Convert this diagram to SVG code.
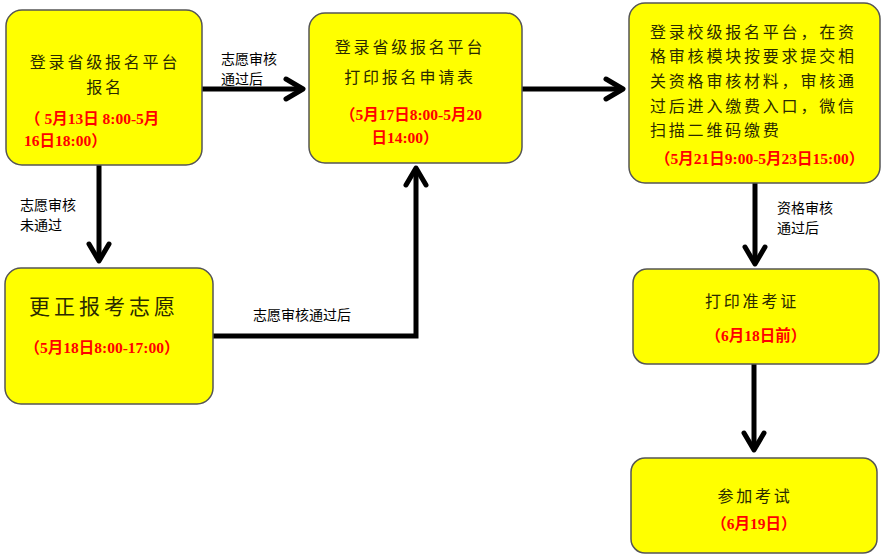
<svg xmlns="http://www.w3.org/2000/svg" width="881" height="558" viewBox="0 0 881 558">
<defs>
<style>
.box{fill:#FFFF00;stroke:#555555;stroke-width:1.5}
.t{font-family:"Noto Sans CJK SC",sans-serif;font-size:16px;fill:#2a2a00;letter-spacing:2.8px}
.big{font-size:21px;letter-spacing:4px}
.r{font-family:"Liberation Serif","Noto Sans CJK SC",serif;font-size:15.5px;font-weight:bold;fill:#FF0000}
.lbl{font-family:"Noto Sans CJK SC",sans-serif;font-size:14px;fill:#000}
.c{fill:none;stroke:#000;stroke-width:5}
</style>
<marker id="ah" markerUnits="userSpaceOnUse" markerWidth="40" markerHeight="40" refX="0" refY="0" orient="auto" viewBox="-25 -20 40 40" overflow="visible">
<path d="M-17,-10 L0,0 L-17,10" fill="none" stroke="#000" stroke-width="5" stroke-linecap="round" stroke-linejoin="round"/>
</marker>
</defs>
<rect width="881" height="558" fill="#FFFFFF"/>
<g id="connectors">
<path class="c" d="M202,89 H303" marker-end="url(#ah)"/>
<path class="c" d="M522,89 H623" marker-end="url(#ah)"/>
<path class="c" d="M99,165 V261" marker-end="url(#ah)"/>
<path class="c" d="M213,336 H416 V168" marker-end="url(#ah)"/>
<path class="c" d="M755,183 V264" marker-end="url(#ah)"/>
<path class="c" d="M754,364 V450" marker-end="url(#ah)"/>
<text class="lbl" x="221" y="64">志愿审核</text>
<text class="lbl" x="221" y="84">通过后</text>
<text class="lbl" x="20" y="210">志愿审核</text>
<text class="lbl" x="20" y="230">未通过</text>
<text class="lbl" x="253" y="320">志愿审核通过后</text>
<text class="lbl" x="777" y="213">资格审核</text>
<text class="lbl" x="777" y="233">通过后</text>
</g>
<g id="n1">
<rect class="box" x="6" y="10" width="196" height="155" rx="16"/>
<text class="t" x="105" y="68" text-anchor="middle">登录省级报名平台</text>
<text class="t" x="105" y="93" text-anchor="middle">报名</text>
<text class="r" x="25" y="124">（ 5月13日 8:00-5月</text>
<text class="r" x="24" y="146">16日18:00）</text>
</g>
<g id="n2">
<rect class="box" x="309" y="13" width="213" height="150" rx="16"/>
<text class="t" x="410" y="53" text-anchor="middle">登录省级报名平台</text>
<text class="t" x="410" y="83" text-anchor="middle">打印报名申请表</text>
<text class="r" x="411" y="120" text-anchor="middle">（5月17日8:00-5月20</text>
<text class="r" x="405" y="143" text-anchor="middle">日14:00）</text>
</g>
<g id="n3">
<rect class="box" x="629" y="3" width="251" height="180" rx="16"/>
<text class="t" x="650" y="38">登录校级报名平台，在资</text>
<text class="t" x="650" y="62">格审核模块按要求提交相</text>
<text class="t" x="650" y="87">关资格审核材料，审核通</text>
<text class="t" x="650" y="112">过后进入缴费入口，微信</text>
<text class="t" x="650" y="136">扫描二维码缴费</text>
<text class="r" x="655" y="164">（5月21日9:00-5月23日15:00）</text>
</g>
<g id="n4">
<rect class="box" x="5" y="268" width="208" height="136" rx="16"/>
<text class="t big" x="104" y="314" text-anchor="middle">更正报考志愿</text>
<text class="r" x="102" y="353" text-anchor="middle">（5月18日8:00-17:00）</text>
</g>
<g id="n5">
<rect class="box" x="633" y="269" width="246" height="95" rx="14"/>
<text class="t" x="752" y="307" text-anchor="middle">打印准考证</text>
<text class="r" x="756" y="341" text-anchor="middle">（6月18日前）</text>
</g>
<g id="n6">
<rect class="box" x="631" y="458" width="246" height="95" rx="14"/>
<text class="t" x="755" y="502" text-anchor="middle">参加考试</text>
<text class="r" x="754" y="529" text-anchor="middle">（6月19日）</text>
</g>
</svg>
